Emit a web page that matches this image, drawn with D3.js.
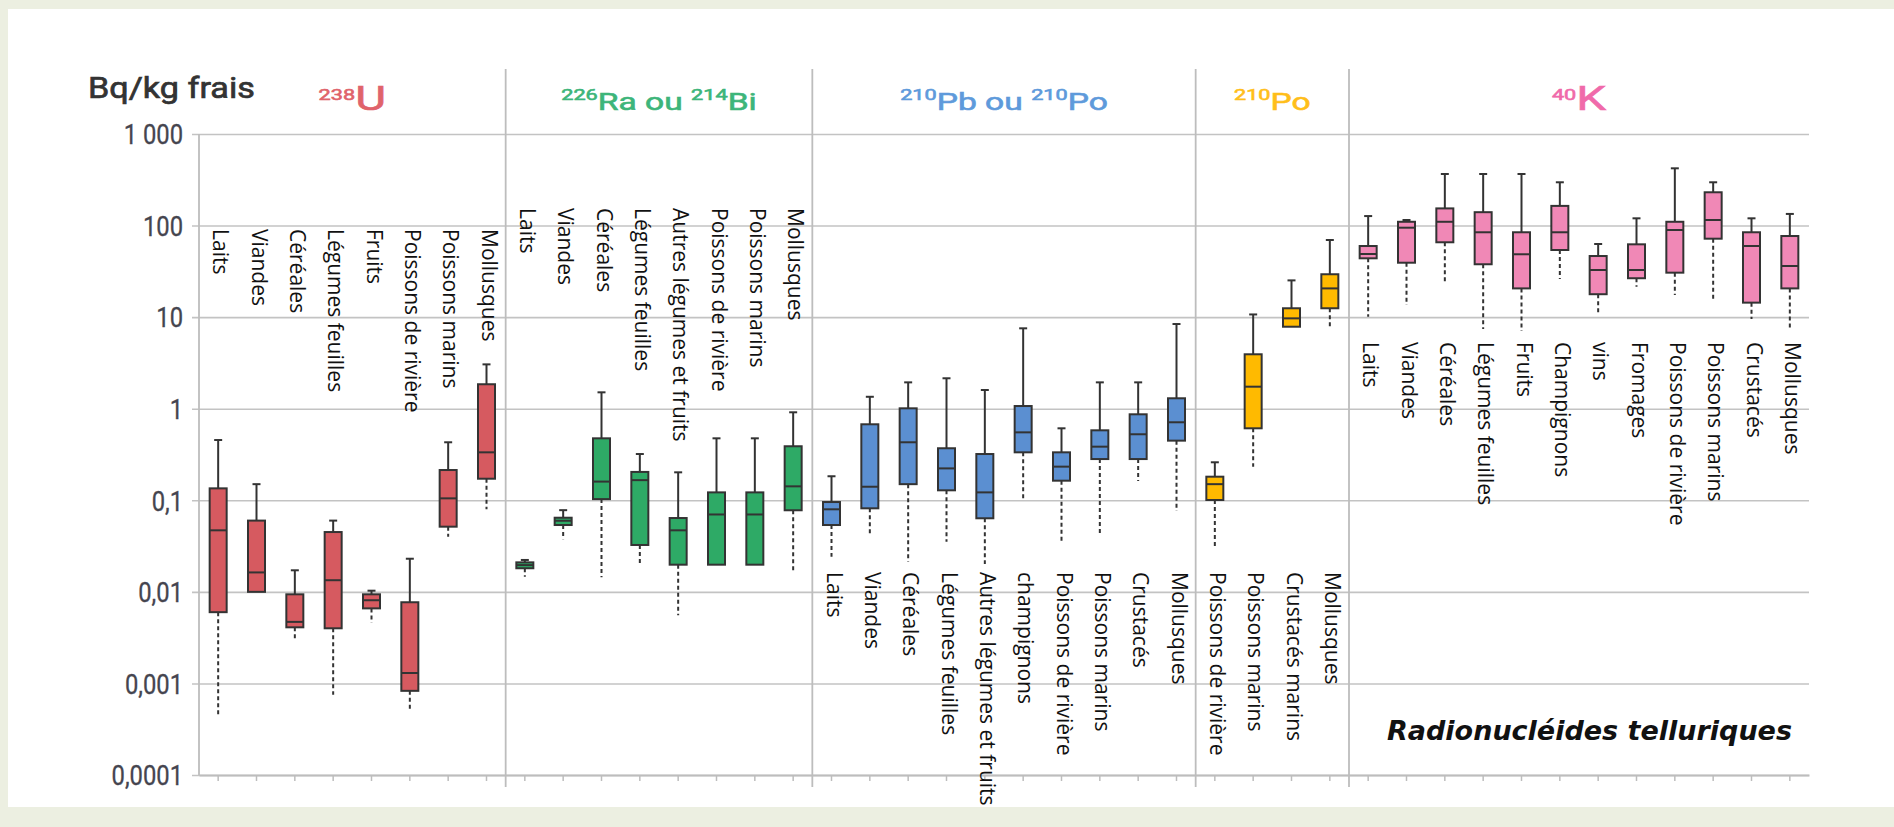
<!DOCTYPE html>
<html lang="fr">
<head>
<meta charset="utf-8">
<title>Radionucléides telluriques – activités dans les denrées</title>
<script src="https://cdn.jsdelivr.net/npm/d3@7"></script>
<style>
  html, body { margin: 0; padding: 0; background: #ECEFE1; }
  svg { display: block; }
</style>
</head>
<body>
<svg id="chart" width="1894" height="827"></svg>
<script>
// ---------- Data: five-number summaries [min, Q1, median, Q3, max] in Bq/kg frais ----------
const uCats  = ["Laits", "Viandes", "Céréales", "Légumes feuilles", "Fruits", "Poissons de rivière", "Poissons marins", "Mollusques"];
const uStats = [
  [0.00045, 0.006, 0.047, 0.135, 0.455],
  [0.01, 0.01, 0.0163, 0.060, 0.15],
  [0.0031, 0.0041, 0.0047, 0.0094, 0.0172],
  [0.00075, 0.004, 0.0134, 0.045, 0.060],
  [0.0046, 0.0066, 0.0081, 0.0094, 0.0103],
  [0.00049, 0.00083, 0.0013, 0.0077, 0.023],
  [0.040, 0.0515, 0.105, 0.214, 0.43],
  [0.080, 0.172, 0.334, 1.85, 3.05]
];

const raCats  = ["Laits", "Viandes", "Céréales", "Légumes feuilles", "Autres légumes et fruits", "Poissons de rivière", "Poissons marins", "Mollusques"];
const raStats = [
  [0.0146, 0.0181, 0.0196, 0.021, 0.0223],
  [0.0375, 0.0537, 0.0598, 0.0645, 0.078],
  [0.0144, 0.103, 0.16, 0.475, 1.51],
  [0.0205, 0.0325, 0.166, 0.204, 0.32],
  [0.00555, 0.0198, 0.047, 0.064, 0.202],
  [0.0198, 0.0198, 0.070, 0.122, 0.475],
  [0.0198, 0.0198, 0.070, 0.122, 0.475],
  [0.0166, 0.0778, 0.142, 0.389, 0.914]
];

const pbCats  = ["Laits", "Viandes", "Céréales", "Légumes feuilles", "Autres légumes et fruits", "champignons", "Poissons de rivière", "Poissons marins", "Crustacés", "Mollusques"];
const pbStats = [
  [0.0242, 0.0537, 0.0797, 0.0957, 0.183],
  [0.0436, 0.0817, 0.1406, 0.676, 1.35],
  [0.0213, 0.15, 0.43, 1.01, 1.94],
  [0.0353, 0.1285, 0.223, 0.37, 2.15],
  [0.0201, 0.0636, 0.122, 0.32, 1.6],
  [0.099, 0.334, 0.552, 1.07, 7.55],
  [0.0339, 0.1637, 0.233, 0.334, 0.611],
  [0.0436, 0.282, 0.385, 0.581, 1.94],
  [0.1625, 0.282, 0.526, 0.869, 1.94],
  [0.0763, 0.448, 0.711, 1.3, 8.41]
];

const poCats  = ["Poissons de rivière", "Poissons marins", "Crustacés marins", "Mollusques"];
const poStats = [
  [0.0294, 0.1007, 0.15, 0.181, 0.26],
  [0.233, 0.611, 1.74, 3.93, 10.7],
  [7.86, 7.86, 9.7, 12.5, 25.2],
  [7.86, 12.5, 20.6, 29.4, 69.6]
];

const kCats  = ["Laits", "Viandes", "Céréales", "Légumes feuilles", "Fruits", "Champignons", "vins", "Fromages", "Poissons de rivière", "Poissons marins", "Crustacés", "Mollusques"];
const kStats = [
  [10.1, 43.9, 48.9, 59.8, 127],
  [13.6, 39.3, 94.8, 110, 115],
  [23.4, 65.7, 110, 154, 366],
  [7.42, 37.8, 84.5, 140, 366],
  [7.06, 20.6, 48.6, 84.5, 366],
  [26.1, 54.1, 84.5, 164, 297],
  [10.5, 17.8, 32.7, 46.5, 62.9],
  [21.5, 26.6, 32.7, 62.4, 120],
  [17.5, 30.6, 89.5, 110, 422],
  [15, 71.9, 115, 231, 297],
  [9.55, 14.4, 59.8, 84.5, 120],
  [7.42, 20.6, 36.2, 76.9, 134]
];

// Radionuclide headers (mass number + symbol)
const nuclideSup  = ["238", "226", "210", "210", "40"];
const nuclideName = [["U"], ["Ra ou ", "214", "Bi"], ["Pb ou ", "210", "Po"], ["Po"], ["K"]];

// Y axis ticks
const yTickValues = [1e-4, 1e-3, 1e-2, 1e-1, 1, 10, 100, 1000];
const yTickLabels = ["0,0001", "0,001", "0,01", "0,1", "1", "10", "100", "1 000"];

// ---------- Styling / layout ----------
const groupFill  = ["#D65A60", "#2EAA66", "#5B8FD1", "#FFBA00", "#F088B6"];
const groupInk   = ["#E0636B", "#3DB57A", "#5E9ADB", "#FFBE1A", "#F06AAA"];
const headSize   = [34, 24, 24, 24, 34];
const labelTop   = [229, 208, 572, 572, 342];

const plot = { left: 199, right: 1809, top: 134, bottom: 775 };
const boxW = 17;

const svg = d3.select("#chart");

// frame + white panel
svg.append("rect").attr("x", 0).attr("y", 0).attr("width", 1894).attr("height", 827).attr("fill", "#ECEFE1");
svg.append("rect").attr("x", 8).attr("y", 9).attr("width", 1886).attr("height", 798).attr("fill", "#FFFFFF");

// ---------- Flatten categories ----------
const groupCats  = [uCats, raCats, pbCats, poCats, kCats];
const groupStats = [uStats, raStats, pbStats, poStats, kStats];
const items = [];
groupCats.forEach((cats, g) => cats.forEach((c, i) => items.push({ id: g + "-" + i, g, label: c, s: groupStats[g][i] })));

const x = d3.scaleBand().domain(items.map(d => d.id)).range([plot.left, plot.right]).paddingInner(0).paddingOuter(0);
const y = d3.scaleLog().domain([1e-4, 1e3]).range([plot.bottom, plot.top]);
const cx = d => x(d.id) + x.bandwidth() / 2;

// ---------- Gridlines + Y axis ----------
const yAxis = d3.axisLeft(y)
  .tickValues(yTickValues)
  .tickFormat((d, i) => yTickLabels[i])
  .tickSizeInner(-(plot.right - plot.left))
  .tickSizeOuter(0)
  .tickPadding(16);

const gy = svg.append("g").attr("transform", `translate(${plot.left},0)`).call(yAxis);
gy.select(".domain").remove();
gy.selectAll(".tick line").attr("x1", -7).attr("stroke", "#C3C3C3").attr("stroke-width", 1.6);
gy.selectAll(".tick text")
  .attr("x", -16 / 0.88)
  .attr("transform", "scale(0.88,1)")
  .attr("font-family", "Roboto, 'DejaVu Sans', sans-serif")
  .attr("font-size", 27)
  .attr("fill", "#45454F")
  .attr("stroke", "#45454F")
  .attr("stroke-width", 0.3)
  .attr("dy", "0.36em");

// left axis line
svg.append("line")
  .attr("x1", plot.left).attr("x2", plot.left)
  .attr("y1", plot.top).attr("y2", plot.bottom)
  .attr("stroke", "#BDBDBD").attr("stroke-width", 1.8);

// ---------- Bottom axis ----------
const xAxis = d3.axisBottom(x).tickFormat("").tickSizeInner(6).tickSizeOuter(0);
const gx = svg.append("g").attr("transform", `translate(0,${plot.bottom})`).call(xAxis);
gx.select(".domain").attr("stroke", "#BDBDBD").attr("stroke-width", 1.8);
gx.selectAll(".tick line").attr("stroke", "#BDBDBD").attr("stroke-width", 1.5);

// ---------- Group separators ----------
const groupStart = groupCats.map((c, g) => items.find(d => d.g === g));
groupStart.slice(1).forEach(d => {
  svg.append("line")
    .attr("x1", x(d.id)).attr("x2", x(d.id))
    .attr("y1", 69).attr("y2", 787)
    .attr("stroke", "#BDBDBD").attr("stroke-width", 1.8);
});

// ---------- Group headers ----------
groupCats.forEach((cats, g) => {
  const first = items.find(d => d.g === g);
  const last = items.filter(d => d.g === g).slice(-1)[0];
  const mid = (x(first.id) + x(last.id) + x.bandwidth()) / 2;
  const t = svg.append("text")
    .attr("transform", `translate(${mid},110) scale(1.4,1)`)
    .attr("text-anchor", "middle")
    .attr("font-family", "Roboto, sans-serif")
    .attr("font-weight", 400)
    .attr("fill", groupInk[g])
    .attr("stroke", groupInk[g])
    .attr("stroke-width", 0.6);
  t.append("tspan").attr("font-size", 15.5).attr("dy", -10.5).text(nuclideSup[g]);
  let raised = true;
  nuclideName[g].forEach(part => {
    const isSup = /^\d+$/.test(part);
    const ts = t.append("tspan").text(part);
    if (isSup) {
      ts.attr("font-size", 15.5).attr("dy", raised ? 0 : -10.5);
      raised = true;
    } else {
      ts.attr("font-size", headSize[g]).attr("dy", raised ? 10.5 : 0);
      raised = false;
    }
  });
});

// unit title
svg.append("text")
  .attr("transform", "translate(88,98) scale(1.14,1)")
  .attr("font-family", "Roboto, sans-serif")
  .attr("font-weight", 400)
  .attr("font-size", 30)
  .attr("fill", "#333333")
  .attr("stroke", "#333333")
  .attr("stroke-width", 0.7)
  .text("Bq/kg frais");

// ---------- Category labels (vertical) ----------
svg.append("g").selectAll("text")
  .data(items)
  .join("text")
  .attr("transform", d => `translate(${cx(d) - 5},${labelTop[d.g]}) rotate(90)`)
  .attr("text-anchor", "start")
  .attr("font-family", "'Open Sans', 'Noto Sans', sans-serif")
  .attr("font-size", 21)
  .attr("fill", "#111111")
  .text(d => d.label);

// ---------- Box plots ----------
const ink = "#333333";
const boxes = svg.append("g").selectAll("g").data(items).join("g");

// upper whisker (solid) with cap
boxes.append("line")
  .attr("x1", cx).attr("x2", cx)
  .attr("y1", d => y(d.s[3])).attr("y2", d => y(d.s[4]))
  .attr("stroke", ink).attr("stroke-width", 2);
boxes.filter(d => d.s[4] > d.s[3]).append("line")
  .attr("x1", d => cx(d) - 4).attr("x2", d => cx(d) + 4)
  .attr("y1", d => y(d.s[4])).attr("y2", d => y(d.s[4]))
  .attr("stroke", ink).attr("stroke-width", 2);

// lower whisker (dashed)
boxes.filter(d => d.s[0] < d.s[1]).append("line")
  .attr("x1", cx).attr("x2", cx)
  .attr("y1", d => y(d.s[1])).attr("y2", d => y(d.s[0]))
  .attr("stroke", ink).attr("stroke-width", 2)
  .attr("stroke-dasharray", "4,3");

// interquartile box
boxes.append("rect")
  .attr("x", d => cx(d) - boxW / 2)
  .attr("y", d => y(d.s[3]))
  .attr("width", boxW)
  .attr("height", d => y(d.s[1]) - y(d.s[3]))
  .attr("fill", d => groupFill[d.g])
  .attr("stroke", ink).attr("stroke-width", 2);

// median
boxes.append("line")
  .attr("x1", d => cx(d) - boxW / 2).attr("x2", d => cx(d) + boxW / 2)
  .attr("y1", d => y(d.s[2])).attr("y2", d => y(d.s[2]))
  .attr("stroke", ink).attr("stroke-width", 2);

// ---------- Caption ----------
svg.append("text")
  .attr("x", 1792).attr("y", 740)
  .attr("text-anchor", "end")
  .attr("font-family", "'DejaVu Sans', Verdana, sans-serif")
  .attr("font-weight", "bold")
  .attr("font-style", "italic")
  .attr("font-size", 27)
  .attr("fill", "#111111")
  .text("Radionucléides telluriques");
</script>
</body>
</html>
